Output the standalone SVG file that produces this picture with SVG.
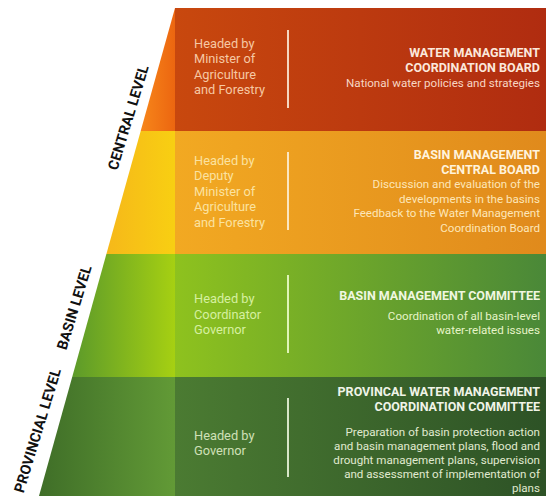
<svg xmlns="http://www.w3.org/2000/svg" width="546" height="496" viewBox="0 0 546 496">
<defs>
<linearGradient id="m1" x1="0" y1="0" x2="1" y2="0"><stop offset="0" stop-color="#c8480e"/><stop offset="1" stop-color="#b02c10"/></linearGradient>
<linearGradient id="s1" x1="0" y1="0" x2="1" y2="0"><stop offset="0" stop-color="#f7861a"/><stop offset="1" stop-color="#ec6610"/></linearGradient>
<linearGradient id="m2" x1="0" y1="0" x2="1" y2="0"><stop offset="0" stop-color="#f2a922"/><stop offset="1" stop-color="#e08a1c"/></linearGradient>
<linearGradient id="s2" x1="0" y1="0" x2="1" y2="0"><stop offset="0" stop-color="#f6b81a"/><stop offset="1" stop-color="#f8cf12"/></linearGradient>
<linearGradient id="m3" x1="0" y1="0" x2="1" y2="0"><stop offset="0" stop-color="#8ec21e"/><stop offset="1" stop-color="#4a8838"/></linearGradient>
<linearGradient id="s3" x1="0" y1="0" x2="1" y2="0"><stop offset="0" stop-color="#5c9a2a"/><stop offset="1" stop-color="#a6d012"/></linearGradient>
<linearGradient id="m4" x1="0" y1="0" x2="1" y2="0"><stop offset="0" stop-color="#4b7b32"/><stop offset="1" stop-color="#2d5226"/></linearGradient>
<linearGradient id="s4" x1="0" y1="0" x2="1" y2="0"><stop offset="0" stop-color="#3f6e28"/><stop offset="1" stop-color="#629a36"/></linearGradient>
<style>
text{font-family:Roboto,"Liberation Sans",sans-serif}
.lvl{font-size:14.5px;font-weight:bold;fill:#111;text-anchor:middle}
.head{font-size:12.8px}
.ttl{font-size:12.5px;font-weight:bold;text-anchor:end}
.body{font-size:11.6px;text-anchor:end}
.div{stroke-width:2}
</style>
</defs>
<rect width="546" height="496" fill="#ffffff"/>
<g id="central-level-label"><text class="lvl" transform="translate(133,119) rotate(-73)">CENTRAL LEVEL</text></g>
<g id="basin-level-label"><text class="lvl" transform="translate(79,309) rotate(-73)">BASIN LEVEL</text></g>
<g id="provincial-level-label"><text class="lvl" transform="translate(42.3,432) rotate(-73)">PROVINCIAL LEVEL</text></g>

<g id="water-management-coordination-board">
<polygon points="175,8 175,131 140.7,131" fill="url(#s1)"/>
<rect x="175" y="8" width="371" height="123" fill="url(#m1)"/>
<g fill="#f6c8a4" class="head"><text x="194" y="47.5">Headed by</text><text x="194" y="63">Minister of</text><text x="194" y="78.5">Agriculture</text><text x="194" y="94">and Forestry</text></g>
<line class="div" x1="288" y1="30" x2="288" y2="108" stroke="#f5d7c0"/>
<text class="ttl" x="540" y="56.5" fill="#fbe8dc">WATER MANAGEMENT</text>
<text class="ttl" x="540" y="71.5" fill="#fbe8dc">COORDINATION BOARD</text>
<text class="body" x="540" y="86.5" fill="#f7d6c4">National water policies and strategies</text>
</g>

<g id="basin-management-central-board">
<polygon points="140.7,131 175,131 175,254 106.4,254" fill="url(#s2)"/>
<rect x="175" y="131" width="371" height="123" fill="url(#m2)"/>
<g fill="#fbe2a0" class="head"><text x="194" y="164.5">Headed by</text><text x="194" y="180">Deputy</text><text x="194" y="195.5">Minister of</text><text x="194" y="211">Agriculture</text><text x="194" y="226.5">and Forestry</text></g>
<line class="div" x1="288" y1="152" x2="288" y2="230" stroke="#fbe6c0"/>
<text class="ttl" x="540" y="158.5" fill="#fff3dc">BASIN MANAGEMENT</text>
<text class="ttl" x="540" y="173.5" fill="#fff3dc">CENTRAL BOARD</text>
<text class="body" x="540" y="188" fill="#fde6b8">Discussion and evaluation of the</text>
<text class="body" x="540" y="202.5" fill="#fde6b8">developments in the basins</text>
<text class="body" x="540" y="217" fill="#fde6b8">Feedback to the Water Management</text>
<text class="body" x="540" y="231.5" fill="#fde6b8">Coordination Board</text>
</g>

<g id="basin-management-committee">
<polygon points="106.4,254 175,254 175,377 72.2,377" fill="url(#s3)"/>
<rect x="175" y="254" width="371" height="123" fill="url(#m3)"/>
<g fill="#d6f0a0" class="head"><text x="194" y="303">Headed by</text><text x="194" y="318.5">Coordinator</text><text x="194" y="334">Governor</text></g>
<line class="div" x1="288" y1="275" x2="288" y2="353" stroke="#e0f4b8"/>
<text class="ttl" x="540" y="299.5" fill="#f0f7e0">BASIN MANAGEMENT COMMITTEE</text>
<text class="body" x="540" y="320" fill="#e6f4c8">Coordination of all basin-level</text>
<text class="body" x="540" y="333.5" fill="#e6f4c8">water-related issues</text>
</g>

<g id="provincial-water-management-coordination-committee">
<polygon points="72.2,377 175,377 175,496 39,496" fill="url(#s4)"/>
<rect x="175" y="377" width="371" height="119" fill="url(#m4)"/>
<g fill="#d0e0b8" class="head"><text x="194" y="439.5">Headed by</text><text x="194" y="455">Governor</text></g>
<line class="div" x1="288" y1="398" x2="288" y2="477" stroke="#d8e6c8"/>
<text class="ttl" x="540" y="396" fill="#f0f4e8">PROVINCAL WATER MANAGEMENT</text>
<text class="ttl" x="540" y="410.5" fill="#f0f4e8">COORDINATION COMMITTEE</text>
<text class="body" x="540" y="435.5" fill="#e0ead0">Preparation of basin protection action</text>
<text class="body" x="540" y="449.5" fill="#e0ead0">and basin management plans, flood and</text>
<text class="body" x="540" y="463.5" fill="#e0ead0">drought management plans, supervision</text>
<text class="body" x="540" y="477.5" fill="#e0ead0">and assessment of implementation of</text>
<text class="body" x="540" y="491.5" fill="#e0ead0">plans</text>
</g>
<g id="connectors"/>
</svg>
